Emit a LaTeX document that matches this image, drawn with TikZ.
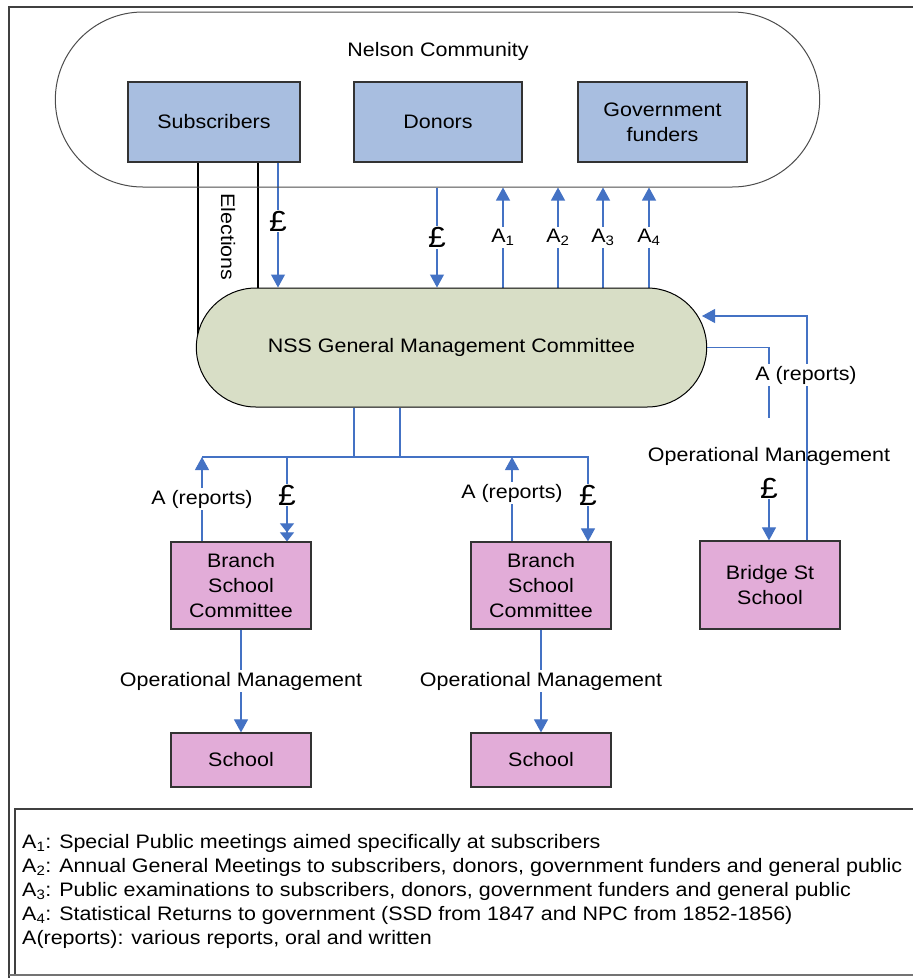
\documentclass[tikz,border=0pt]{standalone}
\usepackage{fontspec}
\setmainfont{Liberation Sans}[FakeStretch=1.1]
\usepackage{tikz}
\usetikzlibrary{calc, shapes, backgrounds,arrows.meta}
\usetikzlibrary{positioning}
\usepackage{xcolor}
\definecolor{fundblue}{RGB}{168,190,224}
\definecolor{nssgreen}{RGB}{216,222,198}
\definecolor{schoolpink}{RGB}{226,172,216}
\definecolor{flowblue}{RGB}{68,114,196}

\begin{document}
\begin{tikzpicture}[x=1pt,y=-1pt,font=\fontsize{19.5}{25}\selectfont,
	fund/.style={draw=black!80,line width=1.2pt,fill=fundblue,minimum height=80pt,align=center},
	pinkbox/.style={draw=black!80,line width=1.2pt,fill=schoolpink,minimum width=140pt,align=center},
	flow/.style={draw=flowblue,line width=1.1pt},
	flowarrow/.style={flow,-{Triangle[width=14pt,length=13pt]}},
	twotips/.style={flow,-{Triangle[width=14pt,length=9pt]Triangle[width=14pt,length=9pt]}},
	lab/.style={fill=white,inner sep=2pt},
	pound/.style={lab,font=\fontsize{29}{30}\selectfont,inner sep=1pt}]
		\useasboundingbox (0,0) rectangle (913,978);
		% frame and legend box
		\draw[black!75,line width=1.2pt] (9,978) -- (9,7) -- (913,7);
		\draw[black!75,line width=1.2pt] (15,975) -- (15,809) -- (913,809);
		\draw[black!55,line width=1.6pt] (9,975) -- (913,975);
		% community
		\node[rounded rectangle,draw=black!70,line width=1pt,minimum width=771pt,minimum height=175pt] (nelson) at (437.5,99.5) {};
		\node (nelsonlab) at (438,51) {Nelson Community};
		\node[fund,minimum width=172pt] (subs) at (214,122) {Subscribers};
		\node[fund,minimum width=168pt] (donors) at (438,122) {Donors};
		\node[fund,minimum width=169pt] (govt) at (662.5,122) {Government\\funders};
		% committee
		\node[rounded rectangle,draw=black,line width=1pt,fill=nssgreen,minimum width=517pt,minimum height=119pt] (nss) at (451.5,347.5) {NSS General Management Committee};
		% schools
		\node[pinkbox,minimum height=87pt] (branchA) at (241,585.5) {Branch\\School\\Committee};
		\node[pinkbox,minimum height=87pt] (branchB) at (541,585.5) {Branch\\School\\Committee};
		\node[pinkbox,minimum height=88pt] (bridge) at (770,585) {Bridge St\\School};
		\node[pinkbox,minimum height=54pt] (schoolA) at (241,760) {School};
		\node[pinkbox,minimum height=54pt] (schoolB) at (541,760) {School};
		\node[rotate=-90] (elec) at (228,237) {Elections};
		\node[lab] (repR) at (806,375) {A (reports)};
		\node (opR) at (769,456) {Operational Management};
		\node[pound,fill=none] (payR) at (769,488) {£};
		% x positions of the flows
		\foreach \n/\x in {e1/198,e2/258,p1/278,p2/437,a1/503,a2/558,a3/603,a4/649,rb/807}
		\coordinate (\n) at (\x,0);
		\coordinate (rgap) at (769,418);
		\coordinate (rtip) at (702,316);
		\foreach \n/\x in {bl/202,bp/287,bm1/354,bm2/400,ba/512,br/588}
		\coordinate (\n) at (\x,457);
		\begin{scope}[on background layer]
		\draw[line width=1.1pt] (subs.south -| e1) -- (nss.west -| e1);
		\draw[line width=1.1pt] (subs.south -| e2) -- (nss.north -| e2);
		\draw[flowarrow] (subs.south -| p1) -- node[pound,pos=.47]{£} (nss.north -| p1);
		\draw[flowarrow] (nelson.south -| p2) -- node[pound]{£} (nss.north -| p2);
		\foreach \i in {1,...,4}
		\draw[flowarrow] (nss.north -| a\i) -- node[lab]{A\textsubscript{\i}} (nelson.south -| a\i);
		% right hand side
		\draw[flow] (nss.east) -| (rgap);
		\draw[flowarrow] (payR) -- (payR |- bridge.north);
		\draw[flowarrow] (bridge.north -| rb) |- (rtip);
		% below the committee
		\draw[flow] (bm1 |- nss.south) -- (bm1);
		\draw[flow] (bm2 |- nss.south) -- (bm2);
		\draw[flowarrow] (bl) -- (br) -- node[pound,pos=.45]{£} (br |- branchB.north);
		\draw[twotips] (bp) -- node[pound,pos=.45]{£} (bp |- branchA.north);
		\draw[flowarrow] (bl |- branchA.north) -- node[lab]{A (reports)} (bl);
		\draw[flowarrow] (ba |- branchB.north) -- node[lab,pos=.57]{A (reports)} (ba);
		\draw[flowarrow] (branchA) -- node[lab]{Operational Management} (schoolA);
		\draw[flowarrow] (branchB) -- node[lab]{Operational Management} (schoolB);
		\end{scope}
		% legend
		\foreach \i/\t in {1/{A\textsubscript{1}: Special Public meetings aimed specifically at subscribers},
			2/{A\textsubscript{2}: Annual General Meetings to subscribers, donors, government funders and general public},
			3/{A\textsubscript{3}: Public examinations to subscribers, donors, government funders and general public},
			4/{A\textsubscript{4}: Statistical Returns to government (SSD from 1847 and NPC from 1852-1856)},
			5/{A(reports): various reports, oral and written}}
		\node[anchor=base west,inner sep=0pt] (leg\i) at (22,824+24*\i) {\t};
	\end{tikzpicture}
\end{document}
